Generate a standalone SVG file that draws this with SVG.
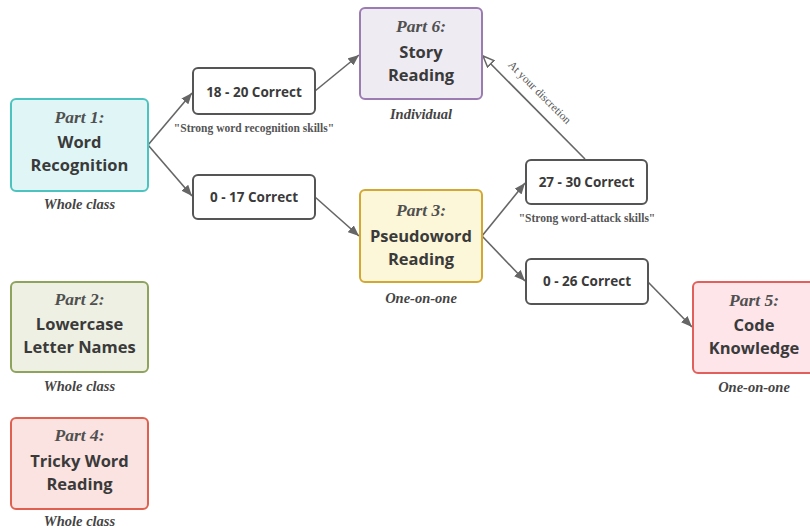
<svg xmlns="http://www.w3.org/2000/svg" width="810" height="531" viewBox="0 0 810 531">
<defs>
<style>
.title{font-family:"Liberation Serif",serif;font-style:italic;font-weight:bold;font-size:17.5px;fill:#505050;text-anchor:middle}
.main{font-family:"Open Sans","Noto Sans",sans-serif;font-weight:bold;font-size:16.5px;fill:#3a3a3a;text-anchor:middle}
.sub{font-family:"Liberation Serif",serif;font-style:italic;font-weight:bold;font-size:14.5px;fill:#444;text-anchor:middle}
.cnt{font-family:"Open Sans","Noto Sans",sans-serif;font-weight:bold;font-size:13.5px;fill:#3a3a3a;text-anchor:middle}
.note{font-family:"Liberation Serif",serif;font-weight:bold;font-size:11.5px;fill:#555;text-anchor:middle}
.disc{font-family:"Liberation Serif",serif;font-size:11.5px;fill:#555;text-anchor:middle}
.box{stroke-width:2}
.score{fill:#fff;stroke:#555;stroke-width:2}
.conn line{stroke:#666;stroke-width:1.6;fill:none}
</style>
<marker id="arr" markerUnits="userSpaceOnUse" markerWidth="11" markerHeight="9" refX="11" refY="4.5" orient="auto">
<path d="M0,0 L11,4.5 L0,9 z" fill="#666"/>
</marker>
<marker id="hollow" markerUnits="userSpaceOnUse" markerWidth="13" markerHeight="11" refX="12" refY="5.5" orient="auto">
<path d="M1,1 L12,5.5 L1,10 z" fill="#fff" stroke="#666" stroke-width="1.5"/>
</marker>
</defs>
<rect width="810" height="531" fill="#fff"/>

<g class="conn" id="connectors">
<line x1="148" y1="145" x2="192" y2="93" marker-end="url(#arr)"/>
<line x1="148" y1="145" x2="192" y2="196" marker-end="url(#arr)"/>
<line x1="315" y1="91" x2="359" y2="55" marker-end="url(#arr)"/>
<line x1="315" y1="197" x2="359" y2="236" marker-end="url(#arr)"/>
<line x1="482" y1="236" x2="525" y2="183" marker-end="url(#arr)"/>
<line x1="482" y1="236" x2="525" y2="281" marker-end="url(#arr)"/>
<line x1="648" y1="282" x2="692" y2="327" marker-end="url(#arr)"/>
<line x1="585" y1="159" x2="483" y2="56" marker-end="url(#hollow)"/>
<text class="disc" x="537" y="95" transform="rotate(45 537 95)">At your discretion</text>
</g>

<g id="part1">
<rect class="box" x="11" y="99" width="137" height="92" rx="5" fill="#e0f6f6" stroke="#4cc3bf"/>
<text class="title" x="79.5" y="123">Part 1:</text>
<text class="main" x="79.5" y="148">Word</text>
<text class="main" x="79.5" y="171">Recognition</text>
<text class="sub" x="79.5" y="209">Whole class</text>
</g>

<g id="score18">
<rect class="score" x="193" y="68" width="122" height="46" rx="5"/>
<text class="cnt" x="254" y="97">18 - 20 Correct</text>
<text class="note" x="254" y="132">"Strong word recognition skills"</text>
</g>

<g id="score0">
<rect class="score" x="193" y="175" width="122" height="44" rx="5"/>
<text class="cnt" x="254" y="202">0 - 17 Correct</text>
</g>

<g id="part6">
<rect class="box" x="360" y="8" width="122" height="91" rx="5" fill="#eeebf3" stroke="#9c7bb2"/>
<text class="title" x="421" y="32">Part 6:</text>
<text class="main" x="421" y="58">Story</text>
<text class="main" x="421" y="81">Reading</text>
<text class="sub" x="421" y="119">Individual</text>
</g>

<g id="part3">
<rect class="box" x="360" y="190" width="122" height="92" rx="5" fill="#fcf7d8" stroke="#d2a832"/>
<text class="title" x="421" y="216">Part 3:</text>
<text class="main" x="421" y="242">Pseudoword</text>
<text class="main" x="421" y="265">Reading</text>
<text class="sub" x="421" y="303">One-on-one</text>
</g>

<g id="score27">
<rect class="score" x="526" y="160" width="121" height="44" rx="5"/>
<text class="cnt" x="586.5" y="187">27 - 30 Correct</text>
<text class="note" x="587" y="222">"Strong word-attack skills"</text>
</g>

<g id="score26">
<rect class="score" x="526" y="259" width="122" height="45" rx="5"/>
<text class="cnt" x="587" y="286">0 - 26 Correct</text>
</g>

<g id="part5">
<rect class="box" x="693" y="282" width="122" height="91" rx="5" fill="#fde5ea" stroke="#e2605c"/>
<text class="title" x="754" y="306">Part 5:</text>
<text class="main" x="754" y="331">Code</text>
<text class="main" x="754" y="354">Knowledge</text>
<text class="sub" x="754" y="392">One-on-one</text>
</g>

<g id="part2">
<rect class="box" x="11" y="282" width="137" height="90" rx="5" fill="#eef0e3" stroke="#8ea35c"/>
<text class="title" x="79.5" y="305">Part 2:</text>
<text class="main" x="79.5" y="330">Lowercase</text>
<text class="main" x="79.5" y="353">Letter Names</text>
<text class="sub" x="79.5" y="391">Whole class</text>
</g>

<g id="part4">
<rect class="box" x="11" y="418" width="137" height="91" rx="5" fill="#fae3e0" stroke="#e0604f"/>
<text class="title" x="79.5" y="441">Part 4:</text>
<text class="main" x="79.5" y="467">Tricky Word</text>
<text class="main" x="79.5" y="490">Reading</text>
<text class="sub" x="79.5" y="526">Whole class</text>
</g>
</svg>
